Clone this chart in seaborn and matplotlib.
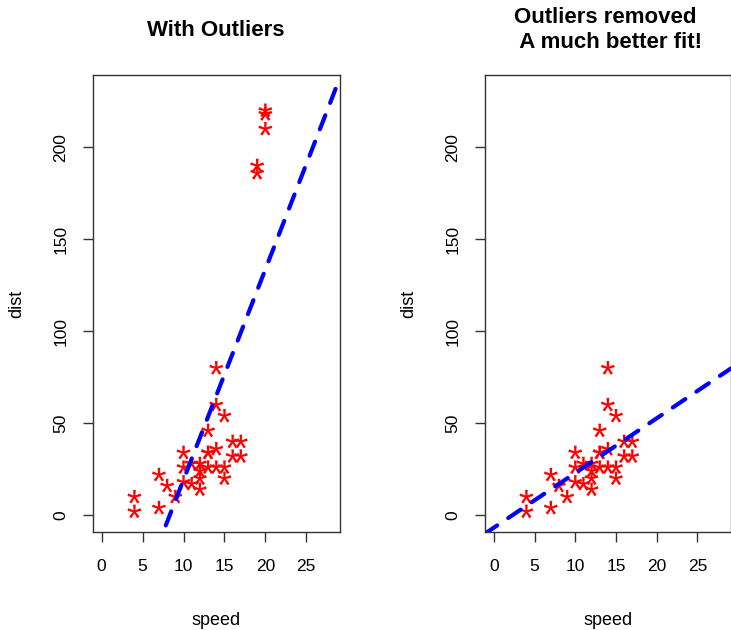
import matplotlib
matplotlib.use("Agg")
import matplotlib.pyplot as plt
import numpy as np
import pandas as pd
import seaborn as sns

# cars[1:30] plus the added outliers
speed = [4, 4, 7, 7, 8, 9, 10, 10, 10, 11, 11, 12, 12, 12, 12, 13, 13, 13, 13,
         14, 14, 14, 14, 15, 15, 15, 16, 16, 17, 17]
dist = [2, 10, 4, 22, 16, 10, 18, 26, 34, 17, 28, 14, 20, 24, 28, 26, 34, 34, 46,
        26, 36, 60, 80, 20, 26, 54, 32, 40, 32, 40]
outlier_speed = [19, 19, 20, 20, 20]
outlier_dist = [190, 186, 210, 220, 218]

x_ticks = [0, 5, 10, 15, 20, 25]
y_ticks = [0, 50, 100, 150, 200]

sns.set_style("white")
plt.rcParams['font.family'] = ['Liberation Sans', 'DejaVu Sans']
plt.rcParams['mathtext.fontset'] = 'custom'
plt.rcParams['mathtext.rm'] = 'Liberation Sans'
for key in ['text.color', 'axes.labelcolor', 'xtick.color', 'ytick.color']:
    plt.rcParams[key] = 'black'

df_clean = pd.DataFrame({'speed': speed, 'dist': dist})
df_out = pd.concat([df_clean, pd.DataFrame({'speed': outlier_speed, 'dist': outlier_dist})],
                   ignore_index=True)

fig = plt.figure(figsize=(7.31, 6.30), dpi=100)
ax1 = fig.add_axes([92.5 / 731, 98 / 630, 247.5 / 731, 457 / 630])
ax2 = fig.add_axes([484.7 / 731, 98 / 630, 246.3 / 731, 457 / 630])

# R style limits: range 0..28 / 0..230 padded by 4%
xlim = (0 - 0.04 * 28, 28 + 0.04 * 28)
ylim = (0 - 0.04 * 230, 230 + 0.04 * 230)


def draw_panel(ax, df, title):
    ax.set_xlim(xlim)
    ax.set_ylim(ylim)
    sns.scatterplot(x='speed', y='dist', data=df, ax=ax, marker='$\\mathrm{*}$', s=100,
                    color='red', edgecolor='none', linewidth=0)
    ax.set_xlim(xlim)
    ax.set_ylim(ylim)
    # regression line stretched over the whole panel, like abline()
    sns.regplot(x='speed', y='dist', data=df, ax=ax, scatter=False, ci=None,
                truncate=False,
                line_kws=dict(color='blue', lw=3, ls=(0, (3.6, 3.2)),
                              dash_capstyle='round'))
    ax.set_xlim(xlim)
    ax.set_ylim(ylim)
    ax.set_xticks(x_ticks)
    ax.set_yticks(y_ticks)
    ax.tick_params(axis='both', direction='out', length=7.5, width=1,
                   color='#333333', labelsize=12.5, pad=12, bottom=True, left=True)
    ax.tick_params(axis='y', pad=10)
    for lab in ax.get_yticklabels():
        lab.set_rotation(90)
        lab.set_va('center')
    ax.set_xlabel('speed', fontsize=13, labelpad=27)
    ax.set_ylabel('dist', fontsize=13, labelpad=20)
    for sp in ax.spines.values():
        sp.set_visible(True)
        sp.set_color('#333333')
        sp.set_linewidth(1)
    ax.text(0.5, 1 + 45 / 457, title, transform=ax.transAxes, ha='center',
            va='center', multialignment='center', fontsize=16, fontweight='bold',
            linespacing=1.2)


draw_panel(ax1, df_out, 'With Outliers')
draw_panel(ax2, df_clean, 'Outliers removed \n A much better fit!')

plt.savefig('out.png', dpi=100)
plt.close()
